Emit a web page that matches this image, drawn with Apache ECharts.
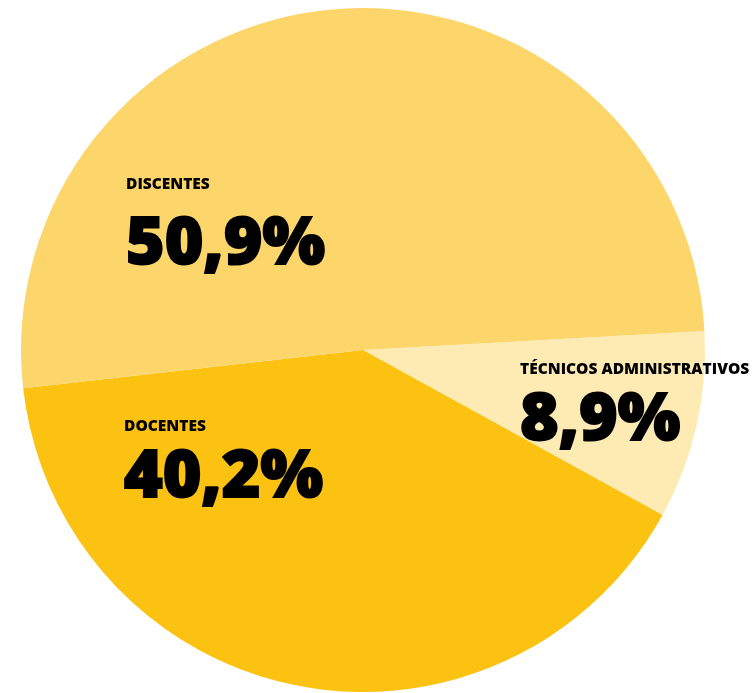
<!DOCTYPE html>
<html>
<head>
<meta charset="utf-8">
<script src="https://cdn.jsdelivr.net/npm/echarts@6/dist/echarts.min.js"></script>
<style>
html,body{margin:0;padding:0;background:#fff;}
#chart{width:753px;height:693px;}
</style>
</head>
<body>
<div id="chart"></div>
<script>
// Data
var categories = ['TÉCNICOS ADMINISTRATIVOS', 'DOCENTES', 'DISCENTES'];
var values = [8.9, 40.2, 50.9];

// Styling / layout (not data)
var colors = ['#FEEBB4', '#FCC211', '#FCD66B'];
var labelPos = [
  {x: 520, y: 361, gap: 86},
  {x: 124, y: 418, gap: 86},
  {x: 126, y: 176, gap: 104}
];

var chart = echarts.init(document.getElementById('chart'), null, {renderer: 'canvas'});

var seriesData = categories.map(function (name, i) {
  return {
    name: name,
    value: values[i],
    itemStyle: {color: colors[i]},
    label: {
      rich: {
        n: {fontSize: 15.5, fontWeight: 800, fontFamily: 'Open Sans', color: '#000', lineHeight: 17},
        v: {fontSize: 66, fontWeight: 800, fontFamily: 'Open Sans', color: '#000', lineHeight: labelPos[i].gap,
            textBorderColor: '#000', textBorderWidth: 2}
      }
    }
  };
});

chart.setOption({
  animation: false,
  series: [{
    type: 'pie',
    center: [363, 350],
    radius: [0, 342],
    startAngle: 3.2,
    clockwise: true,
    avoidLabelOverlap: false,
    data: seriesData,
    itemStyle: {borderWidth: 0},
    emphasis: {disabled: true},
    label: {
      show: true,
      position: 'inside',
      formatter: function (p) {
        return '{n|' + p.name + '}\n{v|' + String(p.value).replace('.', ',') + '%}';
      }
    },
    labelLine: {show: false},
    labelLayout: function (params) {
      var lp = labelPos[params.dataIndex];
      return {x: lp.x, y: lp.y, align: 'left', verticalAlign: 'top'};
    }
  }]
});
</script>
</body>
</html>
